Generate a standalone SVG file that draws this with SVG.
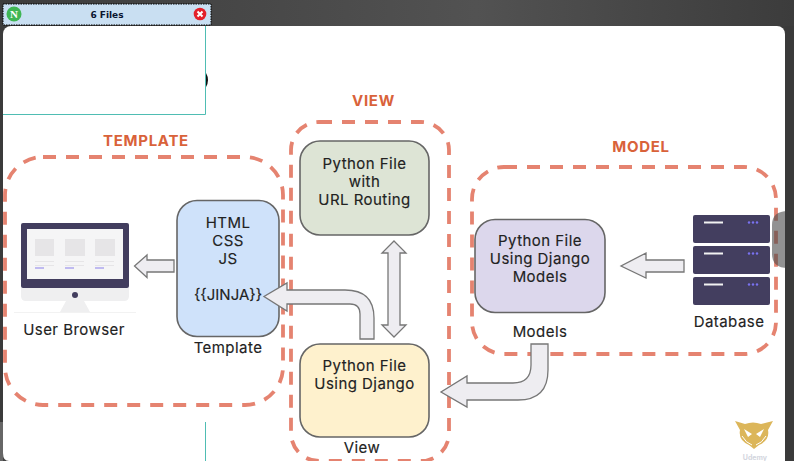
<svg xmlns="http://www.w3.org/2000/svg" width="794" height="461" viewBox="0 0 794 461">
<defs>
<linearGradient id="bg" x1="0" y1="0" x2="1" y2="0"><stop offset="0" stop-color="#3c3c3c"/><stop offset="0.6" stop-color="#525252"/><stop offset="1" stop-color="#3c3c3c"/></linearGradient>
</defs>
<style>
text{font-family:"Inter","Noto Sans","Liberation Sans",sans-serif;fill:#222;text-anchor:middle}
.l{font-size:15px;font-weight:400;letter-spacing:.45px;stroke:#222;stroke-width:.15}
.h{font-size:15px;font-weight:700;fill:#d9623a;letter-spacing:.7px}
.g{fill:none;stroke:#e58370;stroke-width:3.800;stroke-dasharray:13 10}
.n{stroke:#666;stroke-width:1.600}
.a{fill:#eeedf1;stroke:#777;stroke-width:1.300}
.srv{fill:#433e5f}
.sl{stroke:#f2f2f2;stroke-width:1.800}
.sd{fill:#7a72f0}
.sc{fill:#e6e5e7}
.sb{fill:#8a80ea}
</style>
<rect width="794" height="461" fill="#3b3b3b"/>
<rect width="794" height="26" fill="url(#bg)"/>
<rect x="0" y="422" width="3" height="39" fill="#666"/>
<rect x="3" y="26" width="782" height="445" rx="8" fill="#fff"/>
<path d="M3 453V461H9Q3 461 3 453Z" fill="#444"/>
<g id="panel"><path d="M3 114.500H205.500V26" fill="#fff" stroke="#4fbdb3" stroke-width="1"/><path d="M205.500 422V461" stroke="#4fbdb3" stroke-width="1"/><path d="M206 73Q210 80 206 87Z" fill="#111"/></g>
<g id="files-tab">
<rect x="3" y="4" width="208" height="21" fill="#c9dff2" stroke="#000" stroke-width="1" stroke-dasharray="1.500 1"/>
<circle cx="14" cy="14" r="7.500" fill="#3fb654"/><text x="14" y="18" style="font-family:'Liberation Serif',serif;font-size:11px;font-weight:700;fill:#fff">N</text>
<text x="107" y="18" style="font-family:'DejaVu Sans',sans-serif;font-size:9px;font-weight:700;fill:#0a1530">6 Files</text>
<circle cx="200" cy="14" r="6.300" fill="#e3202a"/><path d="M197.500 11.500l5 5m0-5l-5 5" stroke="#fff" stroke-width="2"/>
</g>
<g id="groups">
<rect id="template-group" class="g" x="5" y="157" width="278" height="248" rx="38"/>
<rect id="view-group" class="g" x="291" y="122" width="158" height="339" rx="28"/>
<rect id="model-group" class="g" x="472" y="167" width="304" height="187" rx="32"/>
</g>
<text class="h" x="146" y="146">TEMPLATE</text>
<text class="h" x="373.500" y="106">VIEW</text>
<text class="h" x="641" y="152">MODEL</text>
<g id="user-browser">
<rect x="21" y="223" width="108" height="65" rx="2" fill="#423d5e"/>
<rect x="27" y="229" width="96" height="50" fill="#f5f5f6"/>
<path d="M21 288H129V296Q129 301 124 301H26Q21 301 21 296Z" fill="#efeff0"/>
<path d="M66 301H84L90 312H60Z" fill="#efeff0"/>
<path d="M14 312.500H136" stroke="#f2f2f2"/>
<circle cx="75" cy="295" r="3" fill="#423d5e"/>
<rect class="sc" x="35" y="239" width="19" height="17"/><rect class="sc" x="65" y="239" width="20" height="17"/><rect class="sc" x="95" y="239" width="20" height="17"/>
<rect class="sc" x="35" y="261" width="19" height="1"/><rect class="sc" x="65" y="261" width="19" height="1"/><rect class="sc" x="95" y="261" width="19" height="1"/>
<rect class="sc" x="35" y="265" width="19" height="1"/><rect class="sc" x="65" y="265" width="19" height="1"/><rect class="sc" x="95" y="265" width="19" height="1"/>
<rect class="sb" x="35" y="267.500" width="9" height="1"/><rect class="sb" x="65" y="267.500" width="9" height="1"/><rect class="sb" x="95" y="267.500" width="9" height="1"/>
<text class="l" x="74" y="335">User Browser</text>
</g>
<g id="template"><rect class="n" x="177" y="200.500" width="102" height="136" rx="20" fill="#cfe2fa"/>
<text class="l" x="228" y="228">HTML</text><text class="l" x="228" y="246">CSS</text><text class="l" x="228" y="264">JS</text><text class="l" x="228" y="300" style="letter-spacing:0">{{JINJA}}</text>
<text class="l" x="228" y="353">Template</text></g>
<g id="url-routing"><rect class="n" x="300" y="141" width="129" height="94" rx="20" fill="#dde4d5"/>
<text class="l" x="364.500" y="168.500">Python File</text><text class="l" x="364.500" y="186.500">with</text><text class="l" x="364.500" y="204.500">URL Routing</text></g>
<g id="view"><rect class="n" x="300" y="344" width="129" height="93" rx="20" fill="#fef1cd"/>
<text class="l" x="364.500" y="371">Python File</text><text class="l" x="364.500" y="389">Using Django</text>
<text class="l" x="362" y="453">View</text></g>
<g id="models"><rect class="n" x="475" y="219.500" width="130" height="93" rx="20" fill="#dcd7ec"/>
<text class="l" x="540" y="246">Python File</text><text class="l" x="540" y="264">Using Django</text><text class="l" x="540" y="282">Models</text>
<text class="l" x="540" y="337">Models</text></g>
<g id="database">
<rect class="srv" x="693" y="215" width="77" height="28" rx="2"/><rect class="srv" x="693" y="246" width="77" height="28" rx="2"/><rect class="srv" x="693" y="277" width="77" height="28" rx="2"/>
<path class="sl" d="M704 222.500H723M704 253.500H723M704 284.500H723"/>
<circle class="sd" cx="749" cy="222.500" r="1.200"/><circle class="sd" cx="753" cy="222.500" r="1.200"/><circle class="sd" cx="757" cy="222.500" r="1.200"/><circle class="sd" cx="749" cy="253.500" r="1.200"/><circle class="sd" cx="753" cy="253.500" r="1.200"/><circle class="sd" cx="757" cy="253.500" r="1.200"/><circle class="sd" cx="749" cy="284.500" r="1.200"/><circle class="sd" cx="753" cy="284.500" r="1.200"/><circle class="sd" cx="757" cy="284.500" r="1.200"/>
<text class="l" x="729" y="327">Database</text>
</g>
<g id="connectors">
<path class="a" d="M174 260H147V255L134.500 266L147 277.500V272H174Z"/>
<path class="a" d="M394 241L406 253H400V325H406L394 337L382 325H388V253H382Z"/>
<path class="a" d="M360 339V314Q360 304 350 304H287V311L264 296.500L287 283V290H345Q374 290 374 318V339Z"/>
<path class="a" d="M531 344H548V370Q548 400 518 400H467V407L441 392L467 376V383H513Q531 383 531 365Z"/>
<path class="a" d="M684 260H646V253L621 266L646 278V272H684Z"/>
</g>
<path d="M794 211H788Q772 211 772 225V254Q772 268 788 268H794Z" fill="#4a4a4a" fill-opacity=".6"/>
<path d="M785 26H794V461H785Z" fill="#3a3a3a"/>
<g id="logo"><path d="M735 421L745 424Q753 421 761 424L773 421L768 430Q770 440 759 445L754 449L749 445Q738 440 740 430Z" fill="#dcb65a"/><path d="M744 429L752 434L748 437ZM764 429L756 434L760 437Z" fill="#fff"/><path d="M742 436Q746 443 752 445M766 436Q762 443 756 445" stroke="#fff" fill="none"/><text x="767" y="460" style="font-size:7px;font-weight:700;fill:#d3d6de;text-anchor:end">Udemy</text></g>
</svg>
